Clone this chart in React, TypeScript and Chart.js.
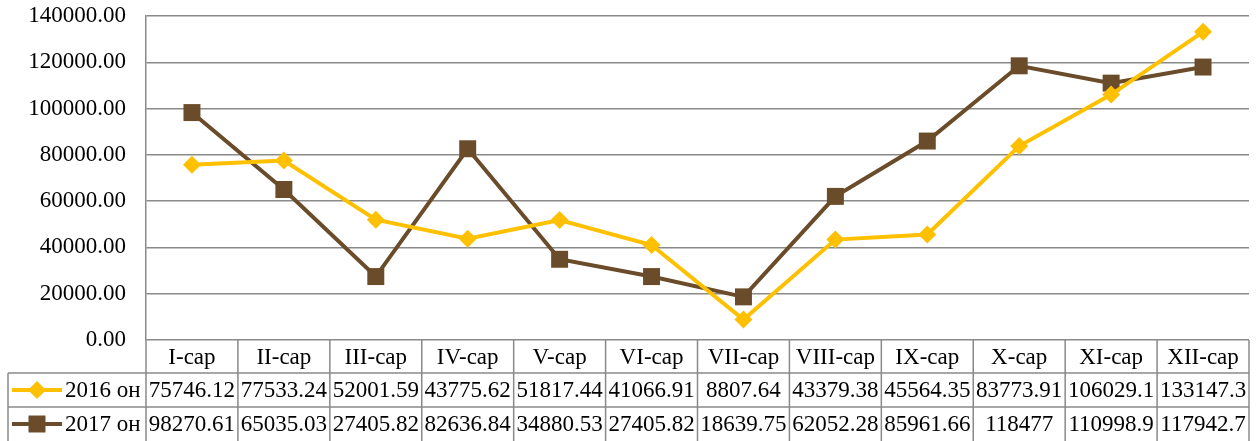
import React, { useEffect, useRef } from "react";
import { Chart, registerables } from "chart.js";

Chart.register(...registerables);

const categories = ["I-cap", "II-cap", "III-cap", "IV-cap", "V-cap", "VI-cap", "VII-cap", "VIII-cap", "IX-cap", "X-cap", "XI-cap", "XII-cap"];
const seriesNames = ["2016 он", "2017 он"];
const values2016 = [75746.12, 77533.24, 52001.59, 43775.62, 51817.44, 41066.91, 8807.64, 43379.38, 45564.35, 83773.91, 106029.1, 133147.3];
const values2017 = [98270.61, 65035.03, 27405.82, 82636.84, 34880.53, 27405.82, 18639.75, 62052.28, 85961.66, 118477, 110998.9, 117942.7];
const yTicks = [0, 20000, 40000, 60000, 80000, 100000, 120000, 140000];

const GOLD = "#FFC000";
const BROWN = "#6B4C2A";
const GRID = "#8a8a8a";
const FAMILY = '"Liberation Serif", "Times New Roman", serif';
const FONT = "23px " + FAMILY;

const tablePlugin = {
  id: "dataTable",
  afterDraw(chart: any) {
    const ctx = chart.ctx;
    const area = chart.chartArea;
    const xs = chart.scales.x;
    const left = area.left;
    const right = area.right;
    const colW = (right - left) / categories.length;
    const top = area.bottom;
    const r1 = top + 33;
    const r2 = r1 + 34;
    const bottom = chart.height;
    ctx.save();
    ctx.strokeStyle = GRID;
    ctx.lineWidth = 1.5;
    ctx.beginPath();
    for (let i = 0; i <= categories.length; i++) {
      const x = left + i * colW;
      ctx.moveTo(x, top);
      ctx.lineTo(x, bottom);
    }
    ctx.moveTo(8, r1);
    ctx.lineTo(right, r1);
    ctx.moveTo(8, r2);
    ctx.lineTo(right, r2);
    ctx.moveTo(8, r1);
    ctx.lineTo(8, bottom);
    ctx.stroke();

    ctx.fillStyle = "#000";
    ctx.font = FONT;
    ctx.textAlign = "center";
    ctx.textBaseline = "middle";
    const rowsY = [(top + r1) / 2 + 1, (r1 + r2) / 2 + 1, (r2 + bottom) / 2 + 1];
    categories.forEach((c, i) => {
      const cx = xs.getPixelForValue(i);
      ctx.fillText(c, cx, rowsY[0]);
      ctx.fillText(String(values2016[i]), cx, rowsY[1]);
      ctx.fillText(String(values2017[i]), cx, rowsY[2]);
    });

    const keys = [
      { y: rowsY[1], color: GOLD, shape: "diamond" },
      { y: rowsY[2], color: BROWN, shape: "square" },
    ];
    keys.forEach((k, i) => {
      const ly = k.y - 1;
      ctx.strokeStyle = k.color;
      ctx.lineWidth = 4;
      ctx.beginPath();
      ctx.moveTo(12, ly);
      ctx.lineTo(62, ly);
      ctx.stroke();
      ctx.fillStyle = k.color;
      ctx.beginPath();
      if (k.shape === "diamond") {
        const r = 9;
        ctx.moveTo(37, ly - r);
        ctx.lineTo(37 + r, ly);
        ctx.lineTo(37, ly + r);
        ctx.lineTo(37 - r, ly);
        ctx.closePath();
      } else {
        ctx.rect(37 - 8.5, ly - 8.5, 17, 17);
      }
      ctx.fill();
      ctx.fillStyle = "#000";
      ctx.textAlign = "left";
      ctx.fillText(seriesNames[i], 65, k.y);
    });
    ctx.restore();
  },
};

const zeroPad = (s: any) => {
  s.paddingTop = 0;
  s.paddingBottom = 0;
  s.paddingLeft = 0;
  s.paddingRight = 0;
};

export default function App() {
  const ref = useRef<HTMLCanvasElement>(null);
  useEffect(() => {
    if (!ref.current) return;
    const chart = new Chart(ref.current, {
      type: "line",
      data: {
        labels: categories,
        datasets: [
          {
            label: seriesNames[0],
            data: values2016,
            borderColor: GOLD,
            backgroundColor: GOLD,
            borderWidth: 4,
            pointStyle: "rectRot",
            pointRadius: 9,
            pointBorderWidth: 0,
            tension: 0,
            clip: false,
          },
          {
            label: seriesNames[1],
            data: values2017,
            borderColor: BROWN,
            backgroundColor: BROWN,
            borderWidth: 4,
            pointStyle: "rect",
            pointRadius: 12,
            pointBorderWidth: 0,
            tension: 0,
            clip: false,
          },
        ],
      },
      options: {
        responsive: false,
        animation: false,
        layout: { autoPadding: false, padding: { top: 16, bottom: 101, right: 8, left: 0 } },
        plugins: { legend: { display: false }, tooltip: { enabled: false } },
        scales: {
          x: {
            type: "category",
            offset: true,
            grid: { display: false, drawTicks: false },
            border: { display: false },
            ticks: { display: false },
            afterFit: zeroPad,
          },
          y: {
            min: 0,
            max: 140000,
            afterFit: (s: any) => {
              s.width = 146;
              zeroPad(s);
            },
            afterBuildTicks: (s: any) => {
              s.ticks = yTicks.map((v) => ({ value: v }));
            },
            grid: { color: GRID, lineWidth: 1.5, drawTicks: false },
            border: { display: true, color: GRID, width: 1.5 },
            ticks: {
              padding: 20,
              color: "#000",
              font: { family: FAMILY, size: 23 },
              callback: (v: any) => Number(v).toFixed(2),
            },
          },
        },
      },
      plugins: [tablePlugin],
    });
    return () => chart.destroy();
  }, []);
  return (
    <div style={{ position: "absolute", left: 0, top: 0, width: 1257, height: 441, background: "#fff" }}>
      <canvas ref={ref} width={1257} height={441} />
    </div>
  );
}
